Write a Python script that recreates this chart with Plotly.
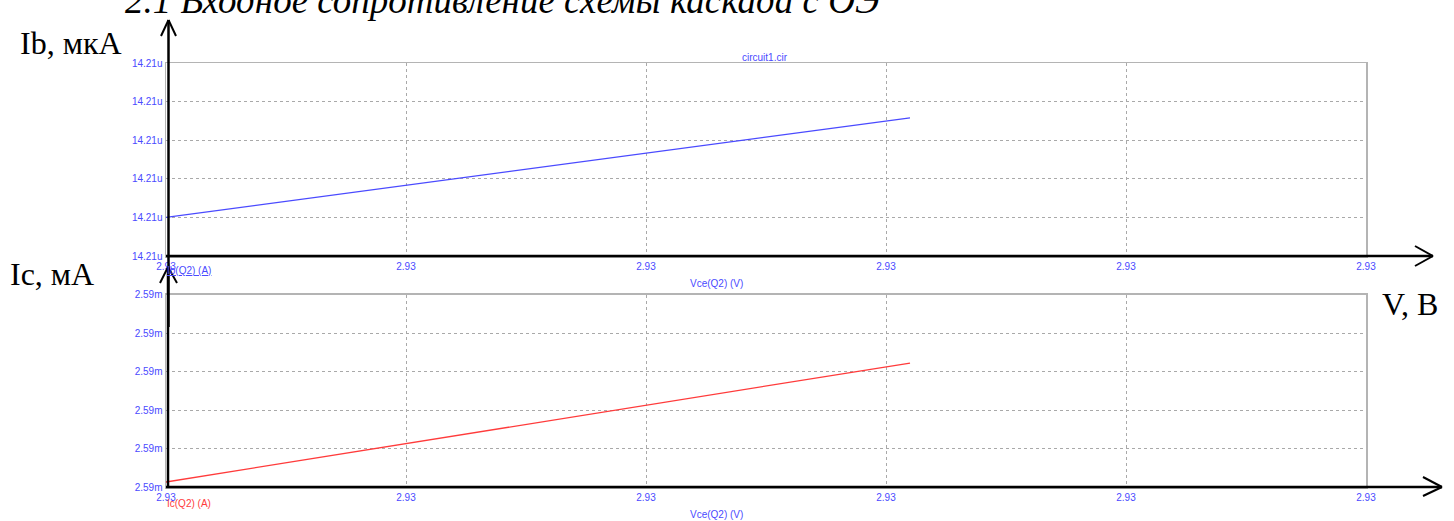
import plotly.graph_objects as go

# ---------------- data ----------------
vce = [2.930000, 2.930310]          # Vce(Q2), V
ib_ua = [14.210100, 14.210358]      # Ib(Q2), uA
ic_ma = [2.590013, 2.590322]        # Ic(Q2), mA

x_tick_vals = [2.9300, 2.9301, 2.9302, 2.9303, 2.9304, 2.9305]
x_tick_labels = ["2.93", "2.93", "2.93", "2.93", "2.93", "2.93"]
ib_tick_vals = [14.2100, 14.2101, 14.2102, 14.2103, 14.2104, 14.2105]
ib_tick_labels = ["14.21u", "14.21u", "14.21u", "14.21u", "14.21u", "14.21u"]
ic_tick_vals = [2.5900, 2.5901, 2.5902, 2.5903, 2.5904, 2.5905]
ic_tick_labels = ["2.59m", "2.59m", "2.59m", "2.59m", "2.59m", "2.59m"]

title_text = "2.1 Входное сопротивление схемы каскада с ОЭ"

# ---------------- layout helpers ----------------
W, H = 1454, 521


def px(x):
    return x / W


def py(y):
    return 1 - y / H


BLUE = "#4a4aff"
RED = "#ff3b3b"
GRID = "#a9a9a9"
FRAME = "#b4b4b4"
small = dict(family="Liberation Sans, Arial", size=10, color=BLUE)
big = dict(family="Liberation Serif, Times New Roman", size=32, color="black")

fig = go.Figure()
fig.add_trace(go.Scatter(x=vce, y=ib_ua, mode="lines", line=dict(color=BLUE, width=1.3),
                         xaxis="x", yaxis="y", showlegend=False, hoverinfo="skip"))
fig.add_trace(go.Scatter(x=vce, y=ic_ma, mode="lines", line=dict(color=RED, width=1.3),
                         xaxis="x2", yaxis="y2", showlegend=False, hoverinfo="skip"))

xdom = [px(166), px(1366)]
axis_common = dict(showgrid=True, gridcolor=GRID, griddash="3px,3px", gridwidth=1,
                   zeroline=False, showline=True, mirror=True, linecolor=FRAME, linewidth=1.5,
                   ticks="", tickfont=small, automargin=False)

fig.update_layout(
    width=W, height=H,
    autosize=False,
    margin=dict(l=0, r=0, t=0, b=0, pad=0),
    paper_bgcolor="white", plot_bgcolor="white",
    title=dict(text="<i>" + title_text + "</i>", x=px(125), xanchor="left", xref="paper",
               y=1.0, yanchor="middle", yref="container", automargin=False,
               font=dict(family="Liberation Serif, Times New Roman", size=37, color="black")),
    xaxis=dict(domain=xdom, anchor="y", range=[x_tick_vals[0], x_tick_vals[-1]],
               tickvals=x_tick_vals, ticktext=x_tick_labels, **axis_common),
    yaxis=dict(domain=[py(256), py(63)], anchor="x", range=[ib_tick_vals[0], ib_tick_vals[-1]],
               tickvals=ib_tick_vals, ticktext=ib_tick_labels, **axis_common),
    xaxis2=dict(domain=xdom, anchor="y2", range=[x_tick_vals[0], x_tick_vals[-1]],
                tickvals=x_tick_vals, ticktext=x_tick_labels, **axis_common),
    yaxis2=dict(domain=[py(487), py(294.5)], anchor="x2", range=[ic_tick_vals[0], ic_tick_vals[-1]],
                tickvals=ic_tick_vals, ticktext=ic_tick_labels, **axis_common),
)

# ---------------- black hand-drawn axes with arrows ----------------
shapes = []


def seg(x0, y0, x1, y1, w=2.5):
    shapes.append(dict(type="line", xref="paper", yref="paper",
                       x0=px(x0), y0=py(y0), x1=px(x1), y1=py(y1),
                       line=dict(color="black", width=w)))


# top plot vertical axis
seg(168.5, 20, 168.5, 327)
seg(168.5, 20, 161, 36, 2)
seg(168.5, 20, 176, 36, 2)
# bottom plot vertical axis
seg(168, 267, 168, 487)
seg(168, 267, 160, 283, 2)
seg(168, 267, 177, 283, 2)
# top plot horizontal axis
seg(166, 256, 1433, 256)
seg(1433, 256, 1415, 246, 2)
seg(1433, 256, 1415, 266, 2)
# bottom plot horizontal axis
seg(166, 487, 1442, 487)
seg(1442, 487, 1423, 477, 2)
seg(1442, 487, 1423, 496, 2)

fig.update_layout(shapes=shapes)

# ---------------- text ----------------
ann = []


def text(x, y, t, font, xanchor="left", yanchor="middle", bg=None):
    d = dict(x=px(x), y=py(y), xref="paper", yref="paper", text=t, showarrow=False,
             xanchor=xanchor, yanchor=yanchor, font=font)
    if bg:
        d["bgcolor"] = bg
    ann.append(d)


text(18, 43, "Ib, мкА", big)
text(8, 274, "Ic, мА", big)
text(1380, 304, "V, B", big, bg="white")
text(765, 57, "circuit1.cir", small, xanchor="center")
text(716, 283, "Vce(Q2) (V)", small, xanchor="center")
text(716, 514, "Vce(Q2) (V)", small, xanchor="center")
text(165, 270, "<span style='text-decoration:underline'>Ib(Q2) (A)</span>", small)
text(165, 503, "Ic(Q2) (A)", dict(family="Liberation Sans, Arial", size=10, color=RED))

fig.update_layout(annotations=ann)

fig.write_html("out.html",
               config={"displayModeBar": False, "staticPlot": True},
               post_script="document.body.style.margin='0';document.body.style.overflow='hidden';")
